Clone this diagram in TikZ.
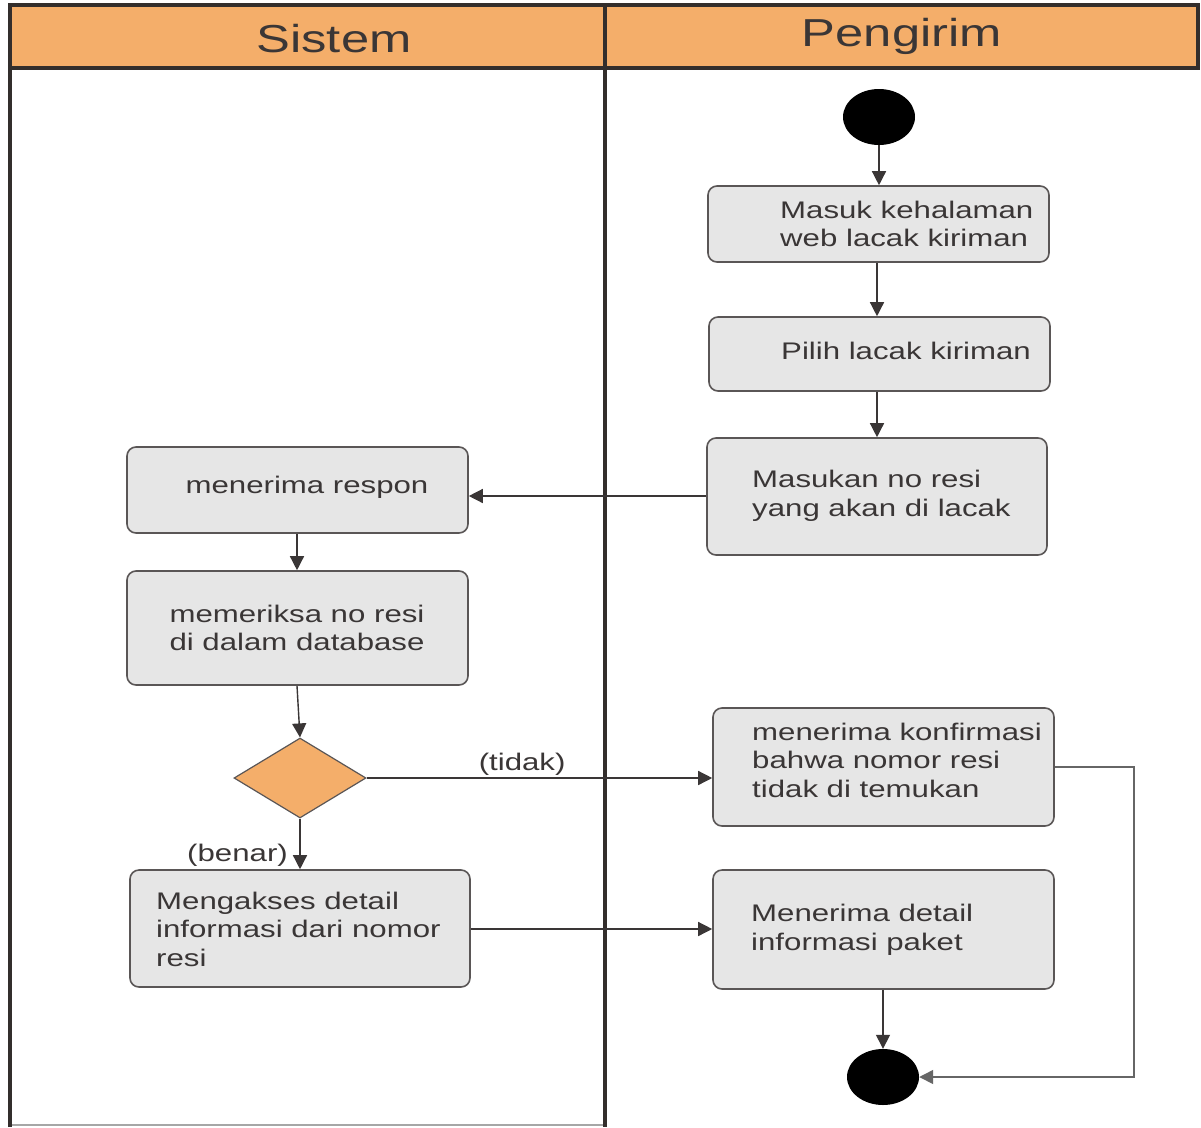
\documentclass[tikz,border=0pt]{standalone}
\usepackage{fontspec}
\setmainfont{Liberation Sans}[FakeStretch=1.3]
\usetikzlibrary{arrows.meta,shapes.geometric}
\definecolor{lanehead}{HTML}{F4AE6A}
\definecolor{frameline}{HTML}{332E2C}
\definecolor{boxfill}{HTML}{E6E6E6}
\definecolor{boxline}{HTML}{5A5656}
\definecolor{inkgray}{HTML}{3A3636}
\begin{document}
\begin{tikzpicture}[x=1pt,y=-1pt,
  actbox/.style={draw=boxline,line width=1.6pt,fill=boxfill,rounded corners=9pt,
    rectangle,inner sep=0pt},
  txt/.style={inner sep=0pt,text=inkgray,font=\fontsize{24}{28.5}\selectfont,align=left},
  headtxt/.style={inner sep=0pt,text=inkgray,font=\fontsize{39}{44}\selectfont},
  dot/.style={ellipse,fill=black,inner sep=0pt,minimum width=72pt,minimum height=56pt},
  choice/.style={diamond,draw=boxline,line width=1.2pt,fill=lanehead,inner sep=0pt,
    minimum width=132pt,minimum height=80pt},
  flow/.style={draw=inkgray,line width=1.4pt,-{Triangle[length=14pt,width=14pt]}},
  lbl/.style={inner sep=0pt,text=inkgray,font=\fontsize{24}{28}\selectfont}]
\useasboundingbox (0,0) rectangle (1201,1127);

% swimlane frame
\fill[white] (0,0) rectangle (1201,1127);
\draw[gray!70,line width=1.5pt] (10,1125) -- (605,1125);
\fill[lanehead] (10,5) rectangle (1198,68);
\draw[frameline,line width=4pt] (10,1127) -- (10,5) -- (1198,5) -- (1198,68) -- (10,68);
\draw[frameline,line width=4pt] (605,5) -- (605,1127);
\node[headtxt] (hsis) at (334,39) {Sistem};
\node[headtxt] (hpeng) at (902,36) {Pengirim};

% Pengirim lane
\node[dot] (start) at (879,117) {};
\node[actbox,minimum width=341pt,minimum height=76pt] (b1) at (878.5,224) {};
\node[txt,anchor=west] (t1) at (780,224) {Masuk kehalaman\\web lacak kiriman};
\node[actbox,minimum width=341pt,minimum height=74pt] (b2) at (879.5,354) {};
\node[txt,anchor=west] (t2) at (781,351) {Pilih lacak kiriman};
\node[actbox,minimum width=340pt,minimum height=117pt] (b3) at (877,496.5) {};
\node[txt,anchor=west] (t3) at (752,496) {Masukan no resi\\yang akan di lacak};
\node[actbox,minimum width=341pt,minimum height=118pt] (k) at (883.5,767) {};
\node[txt,anchor=west] (tk) at (752,760) {menerima konfirmasi\\bahwa nomor resi\\tidak di temukan};
\node[actbox,minimum width=341pt,minimum height=119pt] (d) at (883.5,929.5) {};
\node[txt,anchor=west] (td) at (751,930) {Menerima detail\\informasi paket};
\node[dot] (stop) at (883,1077) {};

% Sistem lane
\node[actbox,minimum width=341pt,minimum height=86pt] (r1) at (297.5,490) {};
\node[txt] (tr1) at (307,487) {menerima respon};
\node[actbox,minimum width=341pt,minimum height=114pt] (r2) at (297.5,628) {};
\node[txt,align=center] (tr2) at (297,628) {memeriksa no resi\\di dalam database};
\node[choice] (q) at (300,778) {};
\node[actbox,minimum width=340pt,minimum height=117pt] (r3) at (300,928.5) {};
\node[txt,anchor=west] (tr3) at (156,929) {Mengakses detail\\informasi dari nomor\\resi};

% control flow
\draw[flow] (start) -- (b1.north -| start);
\draw[flow] (b1.south -| 877,0) -- (b2.north -| 877,0);
\draw[flow] (b2.south -| 877,0) -- (b3.north -| 877,0);
\draw[flow] (b3.west |- 0,496) -- (r1.east |- 0,496);
\draw[flow] (r1.south -| 297,0) -- (r2.north -| 297,0);
\draw[flow] (r2.south -| 297,0) -- (q.north);
\draw[flow] (q.east) -- node[lbl,pos=0.45,above=2pt] (ltidak) {(tidak)} (k.west |- q.east);
\draw[flow] (q.south) -- (r3.north -| q.south);
\node[lbl,anchor=south east] (lbenar) at (288,867) {(benar)};
\draw[flow] (r3.east |- 0,929) -- (d.west |- 0,929);
\draw[flow] (d.south -| stop) -- (stop.north);
\draw[flow,draw=gray!80!black] (k.east |- 0,767) -- (1134,767) -- (1134,1077) -- (stop.east);
\end{tikzpicture}
\end{document}
